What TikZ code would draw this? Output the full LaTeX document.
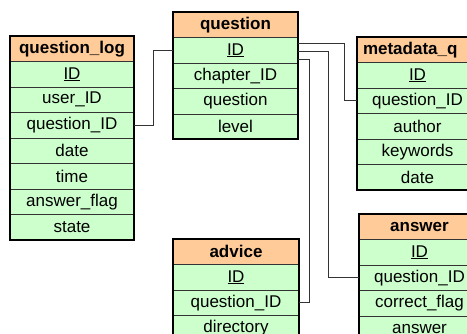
\documentclass[tikz,border=0pt]{standalone}
\usepackage{fontspec}
\setmainfont{Liberation Sans}
\definecolor{hdrfill}{HTML}{FFCC99}
\definecolor{rowfill}{HTML}{CCFFCC}
\definecolor{lnk}{HTML}{333333}
\newcommand\ertable[8]{% name, x, y, width, title, rows, number of rows, header options
  \node[hdrbox, minimum width=#4, #8] (#1-0) at ({#2+#4/2},{#3+12.75}) {#5};
  \foreach \r [count=\i] in {#6} {
    \node[rowbox, minimum width=#4] (#1-\i) at ({#2+#4/2},{#3+12.75+\i*25.5}) {\r};
  }
  \draw[outerbox] (#2,#3) rectangle ++(#4,{(#7+1)*25.5});
}
\begin{document}
\begin{tikzpicture}[x=1pt,y=-1pt,
  rowbox/.style={draw=black!80, line width=0.9pt, fill=rowfill, inner sep=0pt,
    minimum height=25.5pt, font=\fontsize{17}{17}\selectfont},
  hdrbox/.style={rowbox, fill=hdrfill, font=\fontsize{17}{17}\selectfont\bfseries},
  outerbox/.style={draw=black, line width=2pt},
  conn/.style={draw=lnk, line width=1.2pt}]
\useasboundingbox (0,0) rectangle (467,334);
\clip (0,0) rectangle (467,334);
\fill[white] (0,0) rectangle (467,334);

\ertable{ql}{10}{36}{124}{question\_log}{{\underline{ID}},user\_ID,question\_ID,date,time,answer\_flag,state}{7}{}
\ertable{q}{173}{12}{125}{question}{{\underline{ID}},chapter\_ID,question,level}{4}{}
\ertable{md}{357}{37}{121}{metadata\_q}{{\underline{ID}},question\_ID,author,keywords,date}{5}{text width=109pt, align=left}
\ertable{ans}{359}{214}{121}{answer}{{\underline{ID}},question\_ID,correct\_flag,answer}{4}{}
\ertable{adv}{173}{239}{126}{advice}{{\underline{ID}},question\_ID,directory}{3}{}

\draw[conn] (ql-3.east) -- ++(19,0) |- (q-1.west);
\draw[conn] ([yshift=7pt]q-1.east) -| ([xshift=-12pt]md-2.west) -- (md-2.west);
\draw[conn] ([yshift=-1pt]q-1.east) -| ([xshift=-30pt]ans-2.west) -- (ans-2.west);
\draw[conn] ([yshift=-9pt]q-1.east) -| ([xshift=10pt]adv-2.east) -- (adv-2.east);
\end{tikzpicture}
\end{document}
